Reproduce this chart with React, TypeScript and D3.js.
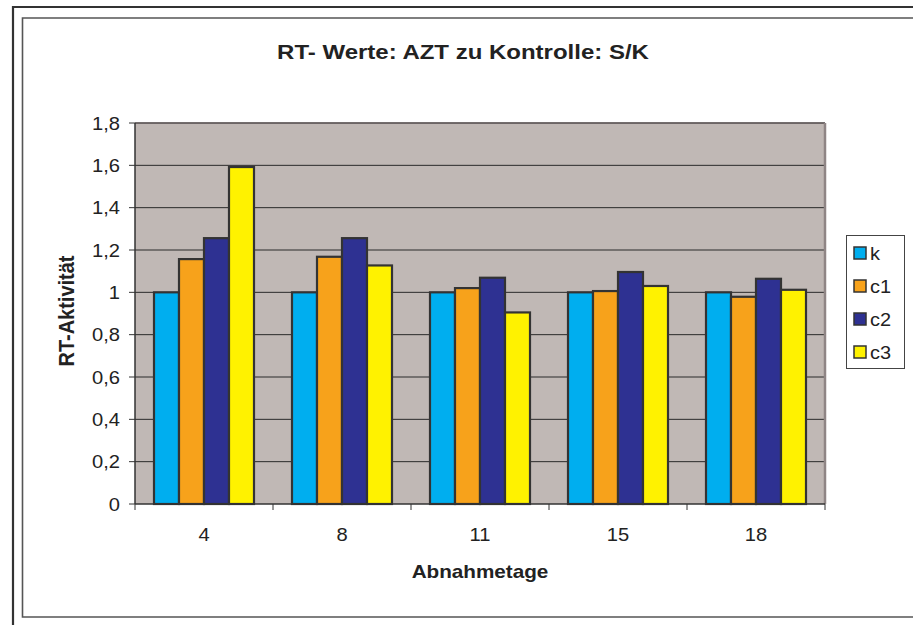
import React from "react";
import * as d3 from "d3";

const categories = ["4", "8", "11", "15", "18"];
const seriesNames = ["k", "c1", "c2", "c3"];
const kValues = [1, 1, 1, 1, 1];
const c1Values = [1.157, 1.168, 1.02, 1.006, 0.979];
const c2Values = [1.256, 1.256, 1.069, 1.096, 1.064];
const c3Values = [1.592, 1.127, 0.905, 1.03, 1.012];
const seriesColors = ["#00AEEF", "#F7A21B", "#2E3192", "#FFF200"];
const yTicks = [0, 0.2, 0.4, 0.6, 0.8, 1, 1.2, 1.4, 1.6, 1.8];

const W = 913;
const H = 625;
const plot = { left: 135, right: 825, top: 123, bottom: 504 };
const FONT = "'Liberation Sans', Arial, Helvetica, sans-serif";
const SX = 1.12;

export default function App() {
  const values = [kValues, c1Values, c2Values, c3Values];
  const x0 = d3
    .scaleBand<string>()
    .domain(categories)
    .range([plot.left, plot.right])
    .paddingInner(0)
    .paddingOuter(0);
  const bw = x0.bandwidth();
  const innerPad = (bw * 38) / 138 / 2;
  const x1 = d3
    .scaleBand<string>()
    .domain(seriesNames)
    .range([innerPad, bw - innerPad]);
  const y = d3.scaleLinear().domain([0, 1.8]).range([plot.bottom, plot.top]);
  const fmt = (v: number) => d3.format("~g")(v).replace(".", ",");

  const T = (props: any) => {
    const { x, y: ty, sx = SX, children, ...rest } = props;
    return (
      <text transform={`translate(${x},${ty}) scale(${sx},1)`} fontFamily={FONT} fill="#222" {...rest}>
        {children}
      </text>
    );
  };

  return (
    <svg width={W} height={H} style={{ position: "absolute", left: 0, top: 0, background: "#fff" }}>
      {/* frames */}
      <path d={`M${W + 5},7 H13 V${H + 5}`} fill="none" stroke="#333" strokeWidth={2.2} />
      <path d={`M${W + 5},18 H22.5 V617 H${W + 5}`} fill="none" stroke="#555" strokeWidth={1.6} />

      {/* title */}
      <T x={463} y={59} textAnchor="middle" fontSize={20} fontWeight="bold" sx={1.2}>
        RT- Werte: AZT zu Kontrolle: S/K
      </T>

      {/* plot background */}
      <rect x={plot.left} y={plot.top} width={plot.right - plot.left} height={plot.bottom - plot.top} fill="#C0B8B5" />
      {/* gridlines */}
      {yTicks.slice(1).map((t) => (
        <line key={t} x1={plot.left} x2={plot.right} y1={y(t)} y2={y(t)} stroke="#2a2a2a" strokeWidth={1} />
      ))}
      {/* plot border top/right */}
      <line x1={plot.left} x2={plot.right} y1={plot.top} y2={plot.top} stroke="#6a6262" strokeWidth={1.5} />
      <line x1={plot.right} x2={plot.right} y1={plot.top} y2={plot.bottom} stroke="#8f8585" strokeWidth={2.5} />

      {/* bars */}
      {categories.map((c, ci) => (
        <g key={c} transform={`translate(${x0(c)},0)`}>
          {seriesNames.map((s, si) => {
            const v = values[si][ci];
            return (
              <rect
                key={s}
                x={x1(s)}
                y={y(v)}
                width={x1.bandwidth()}
                height={y(0) - y(v)}
                fill={seriesColors[si]}
                stroke="#333"
                strokeWidth={2.2}
              />
            );
          })}
        </g>
      ))}

      {/* y axis */}
      <line x1={plot.left} x2={plot.left} y1={plot.top} y2={plot.bottom} stroke="#333" strokeWidth={1.5} />
      {yTicks.map((t) => (
        <g key={t}>
          <line x1={plot.left - 6} x2={plot.left} y1={y(t)} y2={y(t)} stroke="#333" strokeWidth={1} />
          <T x={120} y={y(t) + 6.5} textAnchor="end" fontSize={18}>
            {fmt(t)}
          </T>
        </g>
      ))}

      {/* x axis */}
      <line x1={plot.left} x2={plot.right} y1={plot.bottom} y2={plot.bottom} stroke="#333" strokeWidth={1.5} />
      {categories.map((c) => (
        <T key={c} x={(x0(c) as number) + bw / 2} y={541} textAnchor="middle" fontSize={18}>
          {c}
        </T>
      ))}
      {[...categories.map((c) => x0(c) as number), plot.right].map((xv, i) => (
        <line key={i} x1={xv} x2={xv} y1={plot.bottom} y2={plot.bottom + 6} stroke="#333" strokeWidth={1} />
      ))}

      {/* axis titles */}
      <T x={480} y={578} textAnchor="middle" fontSize={18} fontWeight="bold" sx={1.15}>
        Abnahmetage
      </T>
      <text
        transform={`translate(74,${311}) rotate(-90) scale(1,1.1)`}
        textAnchor="middle"
        fontFamily={FONT}
        fontSize={20}
        fontWeight="bold"
        fill="#222"
      >
        RT-Aktivität
      </text>

      {/* legend */}
      <rect x={846.5} y={235.5} width={58} height={133} fill="#fff" stroke="#444" strokeWidth={1} />
      {seriesNames.map((s, i) => {
        const cy = 253 + i * 33;
        return (
          <g key={s}>
            <rect x={854} y={cy - 6} width={12} height={12} fill={seriesColors[i]} stroke="#333" strokeWidth={1.5} />
            <T x={870} y={cy + 7} fontSize={19} sx={1.05}>
              {s}
            </T>
          </g>
        );
      })}
    </svg>
  );
}
